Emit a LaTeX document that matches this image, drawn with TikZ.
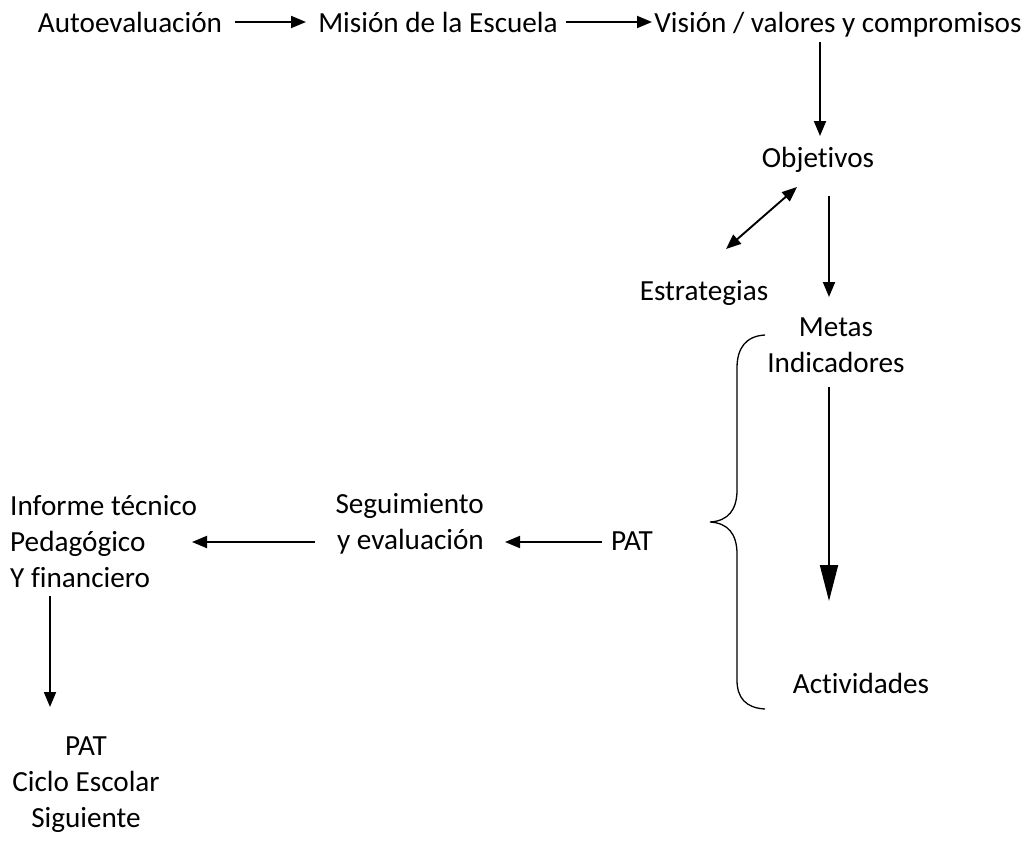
\documentclass[tikz,border=0pt]{standalone}
\usepackage{fontspec}
\setmainfont{Carlito}[Ligatures=CommonOff]
\usetikzlibrary{arrows.meta}
\begin{document}
\begin{tikzpicture}[x=1pt,y=-1pt,
  lbl/.style={inner sep=0pt,font=\fontsize{29.2}{36}\selectfont},
  one/.style={lbl,anchor=base},
  arr/.style={line width=1.9pt,-{Triangle[length=15pt,width=12pt]}},
  darr/.style={line width=1.9pt,{Triangle[length=15pt,width=12pt]}-{Triangle[length=15pt,width=12pt]}},
  bigarr/.style={line width=1.9pt,-{Triangle[length=36pt,width=18pt]}}]
\useasboundingbox (0,0) rectangle (1031,844);
\node[one] (auto) at (130,32) {Autoevaluación};
\node[one] (mision) at (438,32) {Misión de la Escuela};
\node[one] (vision) at (838,32) {Visión / valores y compromisos};
\node[one] (obj) at (818,167) {Objetivos};
\node[one] (estr) at (704,300) {Estrategias};
\node[lbl,align=center] (metas) at (836,345) {Metas\\Indicadores};
\node[one] (act) at (861,693) {Actividades};
\node[one] (pat) at (632,550) {PAT};
\node[lbl,align=right,anchor=east] (seg) at (484,524) {Seguimiento\\y evaluación};
\node[lbl,align=left,anchor=west] (inf) at (10,542) {Informe técnico\\Pedagógico\\Y financiero};
\node[lbl,align=center] (pat2) at (86,785) {PAT\\Ciclo Escolar\\Siguiente};
\coordinate (a1s) at (235,22); \coordinate (a1e) at (306,22);
\draw[arr] (a1s) -- (a1e);
\coordinate (a2s) at (566,22); \coordinate (a2e) at (652,22);
\draw[arr] (a2s) -- (a2e);
\coordinate (a3s) at (820,42); \coordinate (a3e) at (820,136);
\draw[arr] (a3s) -- (a3e);
\coordinate (a4s) at (797,187); \coordinate (a4e) at (726,249);
\draw[darr] (a4s) -- (a4e);
\coordinate (a5s) at (829,196); \coordinate (a5e) at (829,297);
\draw[arr] (a5s) -- (a5e);
\coordinate (a6s) at (829,387); \coordinate (a6e) at (829,601);
\draw[bigarr] (a6s) -- (a6e);
\coordinate (a7s) at (602,542); \coordinate (a7e) at (505,542);
\draw[arr] (a7s) -- (a7e);
\coordinate (a8s) at (315,542); \coordinate (a8e) at (192,542);
\draw[arr] (a8s) -- (a8e);
\coordinate (a9s) at (50,596); \coordinate (a9e) at (50,707);
\draw[arr] (a9s) -- (a9e);
% brace
\draw[line width=1.3pt] (765,335) .. controls (746,336) and (737,348) .. (737,368)
  -- (737,490) .. controls (737,510) and (728,521) .. (710,522)
  .. controls (728,523) and (737,534) .. (737,554)
  -- (737,680) .. controls (737,698) and (746,708) .. (765,709);
\end{tikzpicture}
\end{document}
